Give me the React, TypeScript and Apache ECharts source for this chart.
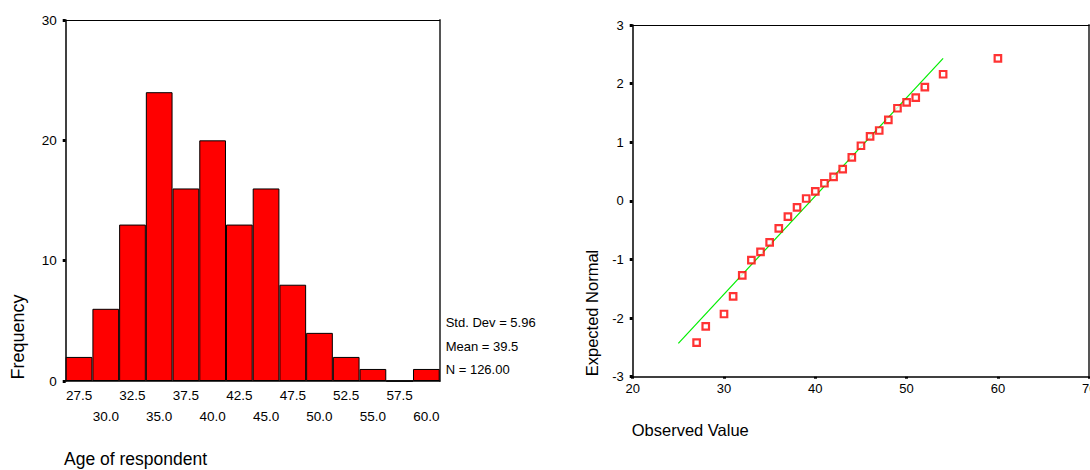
import React, { useEffect, useRef } from "react";
import * as echarts from "echarts";

const ageBins = ["27.5", "30.0", "32.5", "35.0", "37.5", "40.0", "42.5", "45.0", "47.5", "50.0", "52.5", "55.0", "57.5", "60.0"];
const frequencies = [2, 6, 13, 24, 16, 20, 13, 16, 8, 4, 2, 1, 0, 1];
const statsLines = ["Std. Dev = 5.96", "Mean = 39.5", "N = 126.00"];

const observedValues = [27, 28, 30, 31, 32, 33, 34, 35, 36, 37, 38, 39, 40, 41, 42, 43, 44, 45, 46, 47, 48, 49, 50, 51, 52, 54, 60];
const expectedNormal = [-2.42, -2.14, -1.93, -1.63, -1.27, -1.01, -0.87, -0.71, -0.47, -0.27, -0.11, 0.04, 0.16, 0.3, 0.41, 0.54, 0.74, 0.94, 1.1, 1.2, 1.38, 1.58, 1.68, 1.76, 1.94, 2.16, 2.43];
const normalLineX = [25, 54];
const normalLineY = [-2.43, 2.43];

const FONT = "'Liberation Sans', Arial, sans-serif";

export default function App() {
  const ref = useRef<HTMLDivElement>(null);
  useEffect(() => {
    if (!ref.current) return;
    const chart = echarts.init(ref.current, undefined, { renderer: "svg" });
    const hidden = { show: false };
    const frameLine = (color: string, width: number) => ({ show: true, onZero: false, lineStyle: { color, width } });
    const option: any = {
      animation: false,
      backgroundColor: "#ffffff",
      textStyle: { fontFamily: FONT, color: "#000" },
      grid: [
        { left: 65.7, top: 20, width: 374, height: 361, containLabel: false, outerBoundsMode: "none" },
        { left: 632.7, top: 25, width: 456.5, height: 351.7, containLabel: false, outerBoundsMode: "none" },
      ],
      xAxis: [
        {
          type: "category",
          gridIndex: 0,
          data: ageBins,
          boundaryGap: true,
          axisLine: { onZero: false, lineStyle: { color: "#000", width: 1.5 } },
          axisTick: { alignWithLabel: true, length: 1.5, lineStyle: { color: "#444", width: 4 } },
          axisLabel: {
            interval: 0,
            margin: 4,
            fontSize: 13.5,
            lineHeight: 21,
            color: "#000",
            fontFamily: FONT,
            formatter: (v: string, i: number) => (i % 2 === 0 ? v : "\n" + v),
          },
          splitLine: hidden,
        },
        {
          type: "value",
          gridIndex: 0,
          position: "top",
          min: 0,
          max: 1,
          axisLine: frameLine("#000", 1),
          axisTick: hidden,
          axisLabel: hidden,
          splitLine: hidden,
        },
        {
          type: "value",
          gridIndex: 1,
          min: 20,
          max: 70,
          interval: 10,
          axisLine: { onZero: false, lineStyle: { color: "#000", width: 1.5 } },
          axisTick: { length: 2, lineStyle: { color: "#000", width: 3 } },
          axisLabel: { margin: 5, fontSize: 13, color: "#000", fontFamily: FONT },
          splitLine: hidden,
        },
        {
          type: "value",
          gridIndex: 1,
          position: "top",
          min: 0,
          max: 1,
          axisLine: frameLine("#000", 1),
          axisTick: hidden,
          axisLabel: hidden,
          splitLine: hidden,
        },
      ],
      yAxis: [
        {
          type: "value",
          gridIndex: 0,
          min: 0,
          max: 30,
          interval: 10,
          axisLine: { show: true, onZero: false, lineStyle: { color: "#000", width: 1.5 } },
          axisTick: { show: true, length: 3, lineStyle: { color: "#000", width: 3 } },
          axisLabel: { margin: 9, fontSize: 13.5, color: "#000", fontFamily: FONT },
          splitLine: hidden,
        },
        {
          type: "value",
          gridIndex: 0,
          position: "right",
          min: 0,
          max: 1,
          axisLine: frameLine("#555", 2),
          axisTick: hidden,
          axisLabel: hidden,
          splitLine: hidden,
        },
        {
          type: "value",
          gridIndex: 1,
          min: -3,
          max: 3,
          interval: 1,
          axisLine: { show: true, onZero: false, lineStyle: { color: "#000", width: 1.5 } },
          axisTick: { show: true, length: 3, lineStyle: { color: "#000", width: 3 } },
          axisLabel: { margin: 9, fontSize: 13, color: "#000", fontFamily: FONT },
          splitLine: hidden,
        },
        {
          type: "value",
          gridIndex: 1,
          position: "right",
          min: 0,
          max: 1,
          axisLine: frameLine("#555", 2),
          axisTick: hidden,
          axisLabel: hidden,
          splitLine: hidden,
        },
      ],
      series: [
        {
          type: "bar",
          xAxisIndex: 0,
          yAxisIndex: 0,
          data: frequencies,
          barWidth: "100%",
          itemStyle: { color: "#ff0000", borderColor: "#000", borderWidth: 1 },
        },
        {
          type: "line",
          xAxisIndex: 2,
          yAxisIndex: 2,
          data: normalLineX.map((x, i) => [x, normalLineY[i]]),
          symbol: "none",
          lineStyle: { color: "#00ee00", width: 1.2 },
          z: 2,
        },
        {
          type: "scatter",
          xAxisIndex: 2,
          yAxisIndex: 2,
          data: observedValues.map((x, i) => [x, expectedNormal[i]]),
          symbol: "rect",
          symbolSize: 6.5,
          itemStyle: { color: "#ffffff", borderColor: "#ff0000", borderWidth: 2.2 },
          z: 3,
        },
      ],
      graphic: [
        ...statsLines.map((t, i) => ({
          type: "text",
          left: 445.7,
          top: 316 + i * 23.5,
          style: { text: t, fontSize: 13, fontFamily: FONT, fill: "#000" },
        })),
        {
          type: "text",
          x: 18,
          y: 337,
          rotation: Math.PI / 2,
          style: { text: "Frequency", fontSize: 18, fontFamily: FONT, fill: "#000", align: "center", verticalAlign: "middle" },
        },
        {
          type: "text",
          x: 64,
          y: 459,
          style: { text: "Age of respondent", fontSize: 17.5, fontFamily: FONT, fill: "#000", align: "left", verticalAlign: "middle" },
        },
        {
          type: "text",
          x: 592,
          y: 313,
          rotation: Math.PI / 2,
          style: { text: "Expected Normal", fontSize: 16.5, fontFamily: FONT, fill: "#000", align: "center", verticalAlign: "middle" },
        },
        {
          type: "text",
          x: 631.7,
          y: 430,
          style: { text: "Observed Value", fontSize: 16.5, fontFamily: FONT, fill: "#000", align: "left", verticalAlign: "middle" },
        },
      ],
    };
    chart.setOption(option);
    return () => chart.dispose();
  }, []);
  return <div ref={ref} style={{ position: "absolute", left: 0, top: 0, width: 1090, height: 470 }} />;
}
